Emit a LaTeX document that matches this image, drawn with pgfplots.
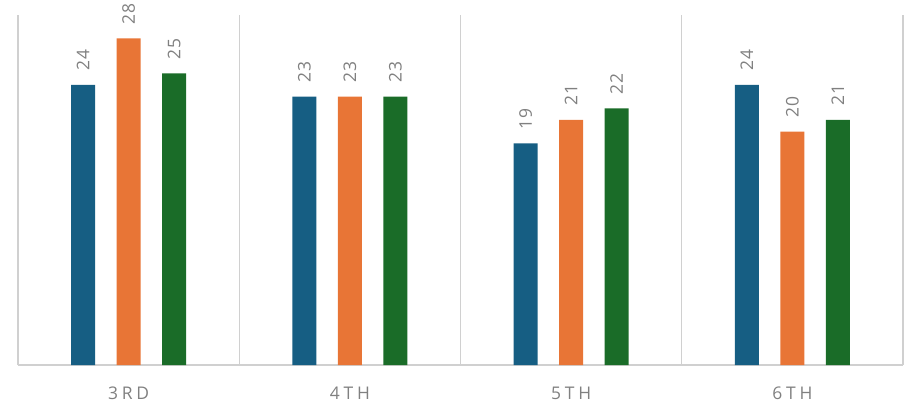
\documentclass[border=0pt]{standalone}
\usepackage{pgfplots}
\pgfplotsset{compat=1.18}
\usepackage{fontspec}
\setmainfont{Open Sans}
\newfontfamily\labfont[LetterSpace=6]{Open Sans}
\newfontfamily\tickfont[LetterSpace=22]{Open Sans}

\definecolor{cblue}{RGB}{22,94,131}
\definecolor{corange}{RGB}{232,117,54}
\definecolor{cgreen}{RGB}{26,108,40}
\definecolor{labgray}{RGB}{128,128,128}
\definecolor{gridgray}{RGB}{208,208,208}

\begin{document}
\begin{tikzpicture}
\begin{axis}[
  scale only axis, width=885bp, height=350bp,
  ybar=21.5bp, bar width=24bp,
  xmin=-0.5, xmax=3.5, ymin=0, ymax=30,
  /pgf/number format/assume math mode=true,
  axis x line*=bottom, axis y line=none,
  x axis line style={draw=gridgray, line width=1.4pt, -},
  xtick={0,1,2,3}, xticklabels={3RD,4TH,5TH,6TH},
  major tick length=0pt,
  minor xtick={-0.5,0.5,1.5,2.5,3.5}, minor tick length=0pt,
  xminorgrids=true,
  minor grid style={draw=gridgray, line width=1.4pt},
  xticklabel style={font=\tickfont\fontsize{17.5}{17.5}\selectfont, text=labgray,
    text height=13bp, text depth=0pt, yshift=-18bp},
  nodes near coords,
  every node near coord/.append style={rotate=90, anchor=west, inner xsep=14bp, inner ysep=0pt,
    font=\labfont\fontsize{17.5}{17.5}\selectfont, text=labgray},
]
\addplot[fill=cblue, draw=none] coordinates {(0,24) (1,23) (2,19) (3,24)};
\addplot[fill=corange, draw=none] coordinates {(0,28) (1,23) (2,21) (3,20)};
\addplot[fill=cgreen, draw=none] coordinates {(0,25) (1,23) (2,22) (3,21)};
\end{axis}
\pgfresetboundingbox
\path ([xshift=-18bp,yshift=-40bp]current axis.south west) rectangle ([xshift=3bp,yshift=15bp]current axis.north east);
\end{tikzpicture}
\end{document}
